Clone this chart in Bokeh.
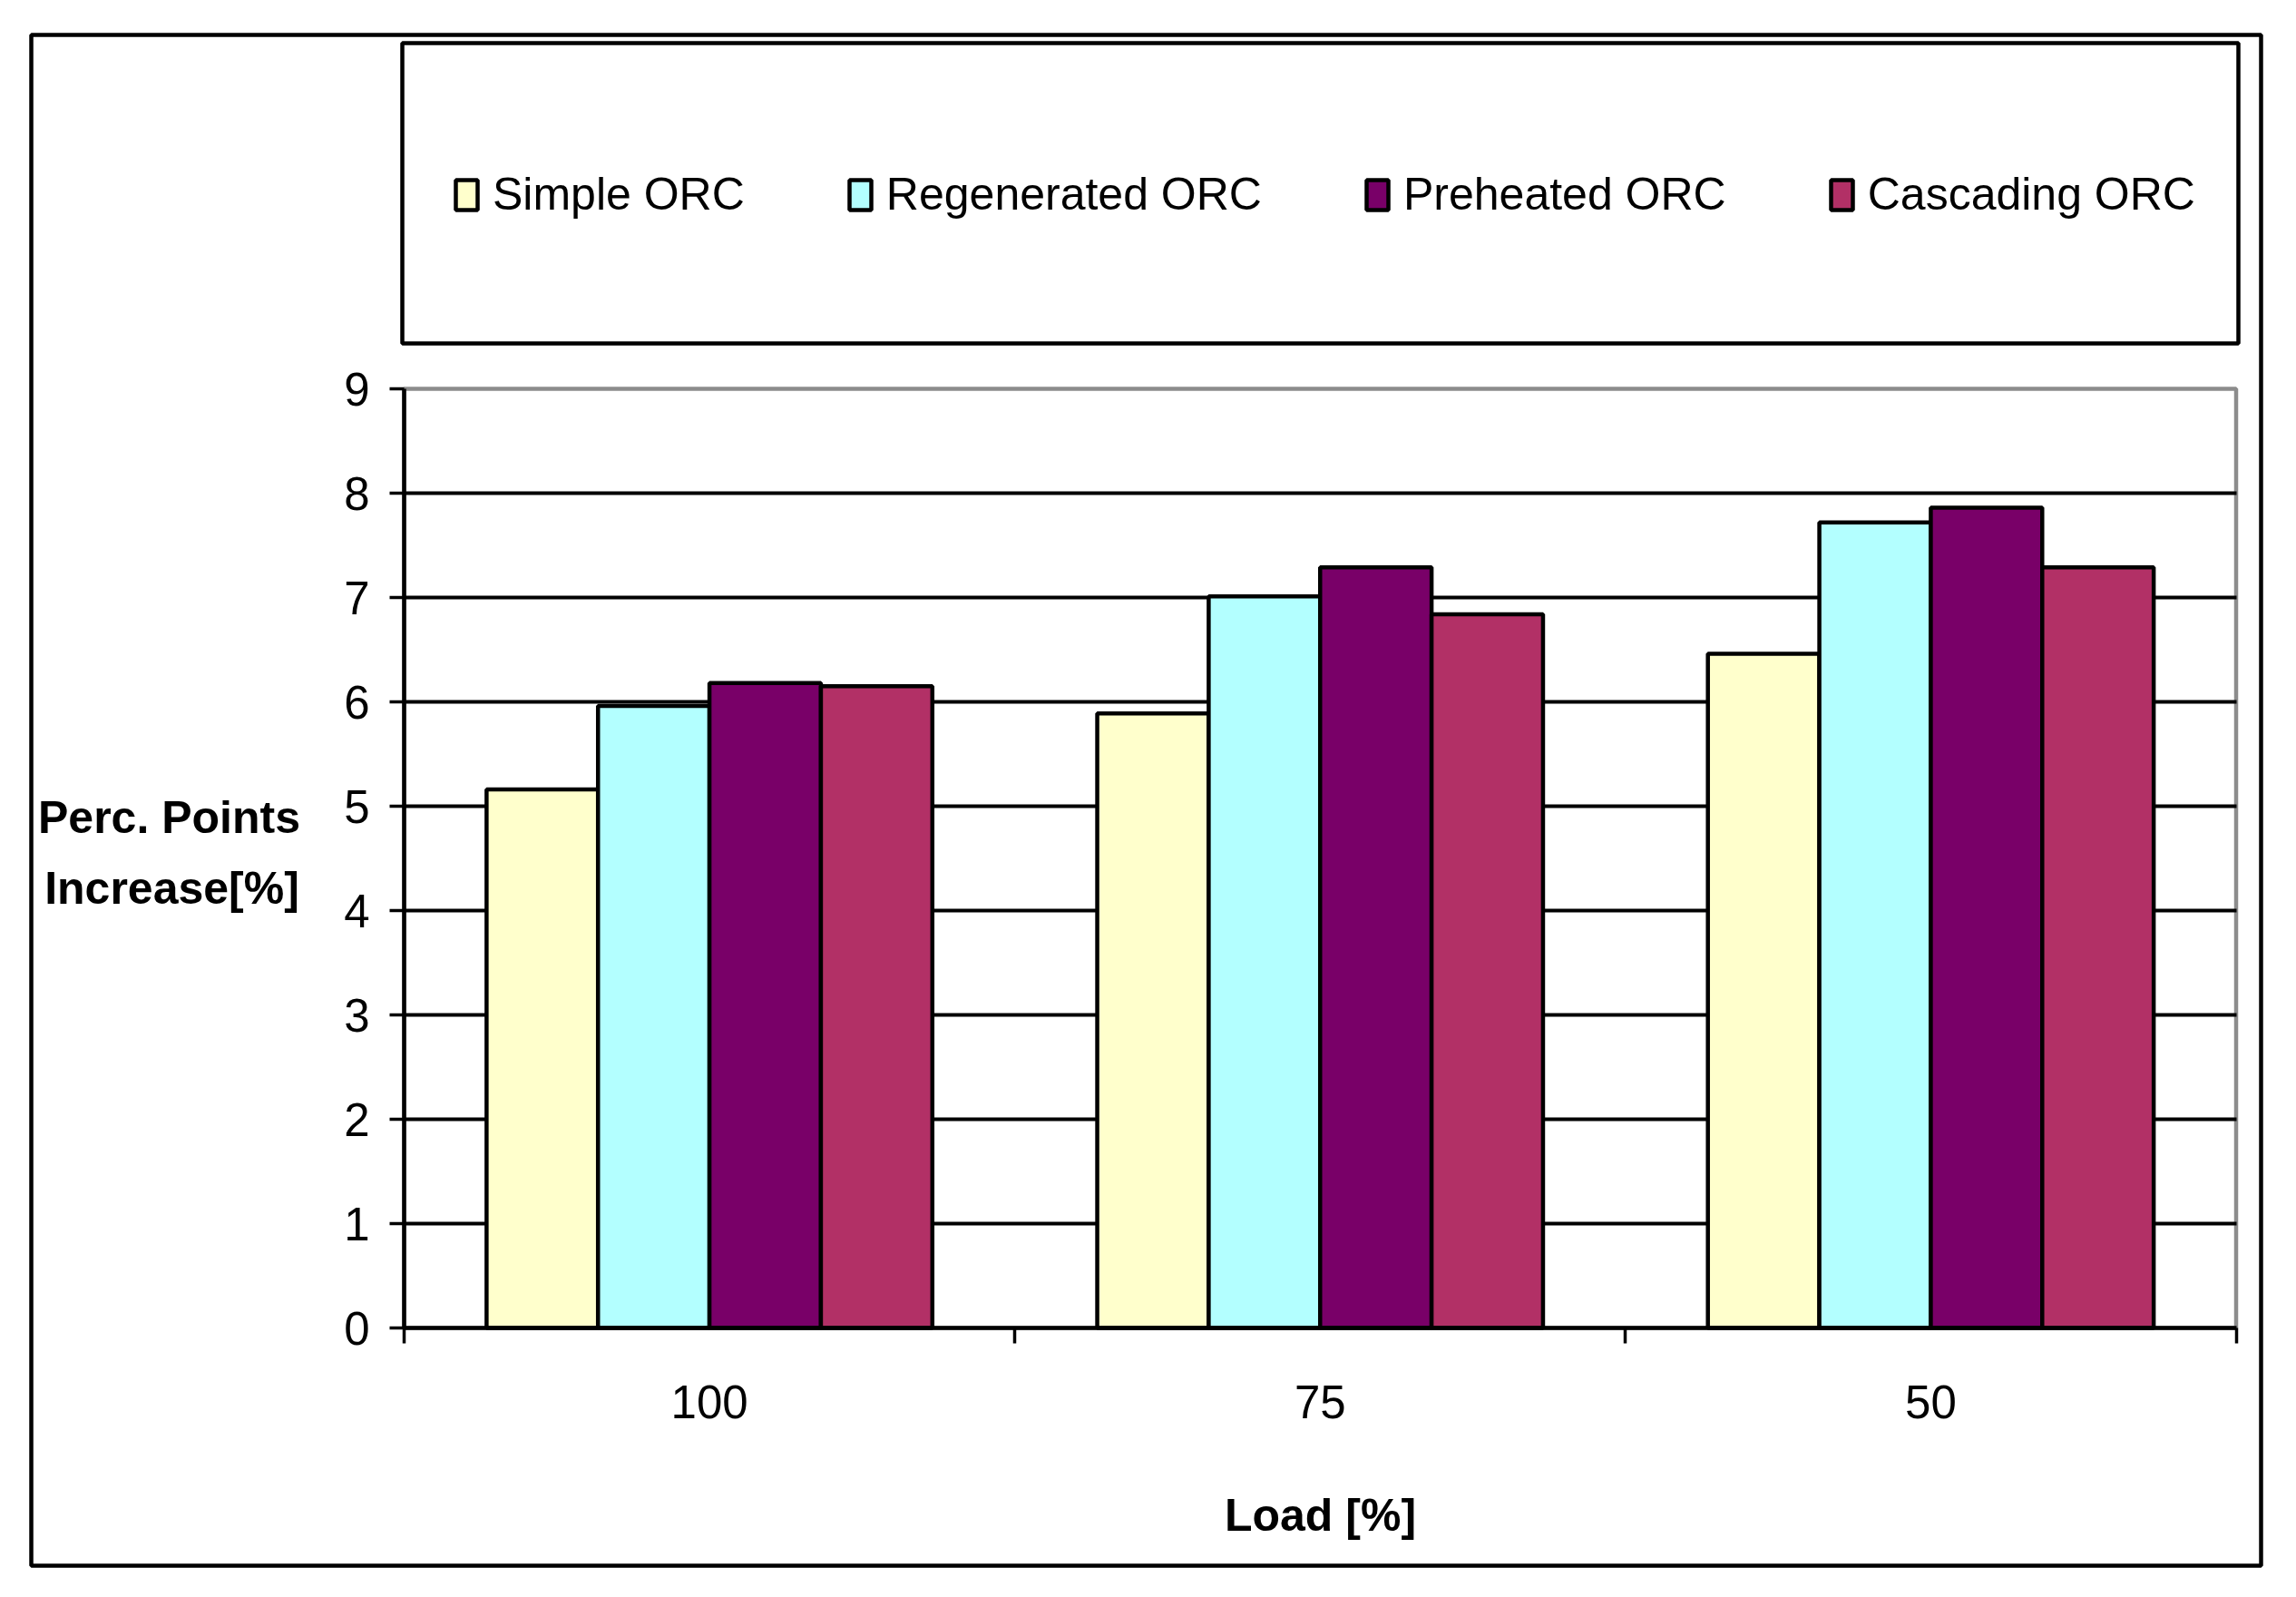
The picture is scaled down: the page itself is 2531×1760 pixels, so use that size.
from bokeh.plotting import figure
from bokeh.models import Range1d, LinearAxis, FixedTicker, BoxAnnotation, Label, Grid
from bokeh.embed import file_html
from bokeh.resources import INLINE

# ---- data ----
loads = ["100", "75", "50"]
series_names = ["Simple ORC", "Regenerated ORC", "Preheated ORC", "Cascading ORC"]
simple_orc = [5.16, 5.89, 6.46]
regenerated_orc = [5.96, 7.01, 7.72]
preheated_orc = [6.18, 7.29, 7.86]
cascading_orc = [6.15, 6.84, 7.29]
y_ticks = [0, 1, 2, 3, 4, 5, 6, 7, 8, 9]
colors = ["#FFFFCC", "#B3FFFF", "#790068", "#B23066"]

series_values = [simple_orc, regenerated_orc, preheated_orc, cascading_orc]

FONT = "Liberation Sans"
W, H = 2515, 1744
# canvas pixel layout: the frame is the outer chart border, plot area inside it
FR_L, FR_R, FR_T, FR_B = 34, 2492, 38, 1725
PA_L, PA_R, PA_T, PA_B = 445, 2464.5, 428, 1463

n_cat = len(loads)
y_max = y_ticks[-1]
ux = (PA_R - PA_L) / n_cat
uy = (PA_B - PA_T) / y_max
x_start = -(PA_L - FR_L) / ux
x_end = n_cat + (FR_R - PA_R) / ux
y_start = -(FR_B - PA_B) / uy
y_end = y_max + (PA_T - FR_T) / uy

cat_pos = [i + 0.5 for i in range(n_cat)]
cat_bounds = [i for i in range(n_cat + 1)]
bar_w = 0.1825

p = figure(width=W, height=H, x_range=Range1d(x_start, x_end), y_range=Range1d(y_start, y_end),
           output_backend="svg", toolbar_location=None,
           x_axis_location=None, y_axis_location=None,
           min_border_left=FR_L, min_border_right=W - FR_R,
           min_border_top=FR_T, min_border_bottom=H - FR_B)
p.background_fill_color = "white"
p.border_fill_color = "white"
p.outline_line_color = "black"
p.outline_line_width = 4.5
p.outline_line_alpha = 1.0
p.grid.visible = False

# plot area border (grey top / right)
p.add_layout(BoxAnnotation(left=0, right=n_cat, bottom=0, top=y_max, fill_color=None,
                           line_color="#8C8C8C", line_alpha=1.0, line_width=4.5, level="underlay"))

# horizontal gridlines limited to the plot area
try:
    grid = Grid(dimension=1, ticker=FixedTicker(ticks=y_ticks[1:-1]), cross_bounds=(0, n_cat),
                grid_line_color="black", grid_line_width=3.8, grid_line_alpha=1.0)
    p.add_layout(grid, "center")
except Exception:
    p.segment(x0=[0] * (len(y_ticks) - 2), x1=[n_cat] * (len(y_ticks) - 2),
              y0=y_ticks[1:-1], y1=y_ticks[1:-1], line_color="black", line_width=3.8)

for k, (name, vals, col) in enumerate(zip(series_names, series_values, colors)):
    xs = [c + (k - 1.5) * bar_w for c in cat_pos]
    p.vbar(x=xs, top=vals, bottom=0, width=bar_w, fill_color=col, line_color="black",
           line_width=4.5, legend_label=name)

# x axis
xaxis = LinearAxis(ticker=FixedTicker(ticks=cat_pos, minor_ticks=cat_bounds),
                   fixed_location=0, bounds=(0, n_cat))
xaxis.major_label_overrides = {c: lab for c, lab in zip(cat_pos, loads)}
xaxis.major_tick_line_color = None
xaxis.minor_tick_out = 17
xaxis.minor_tick_in = 0
xaxis.minor_tick_line_color = "black"
xaxis.minor_tick_line_width = 3.5
xaxis.axis_line_color = "black"
xaxis.axis_line_width = 4.5
xaxis.major_label_text_font = FONT
xaxis.major_label_text_font_size = "51px"
xaxis.major_label_text_color = "black"
xaxis.major_label_standoff = 46
xaxis.axis_label = "Load [%]"
xaxis.axis_label_text_font = FONT
xaxis.axis_label_text_font_style = "bold"
xaxis.axis_label_text_font_size = "50px"
xaxis.axis_label_text_color = "black"
xaxis.axis_label_standoff = 76
p.add_layout(xaxis, "below")

# y axis
yaxis = LinearAxis(ticker=FixedTicker(ticks=y_ticks, minor_ticks=[]),
                   fixed_location=0, bounds=(0, y_max))
yaxis.major_tick_out = 16
yaxis.major_tick_in = 0
yaxis.major_tick_line_color = "black"
yaxis.major_tick_line_width = 3.5
yaxis.axis_line_color = "black"
yaxis.axis_line_width = 4.5
yaxis.major_label_text_font = FONT
yaxis.major_label_text_font_size = "51px"
yaxis.major_label_text_color = "black"
yaxis.major_label_standoff = 22
p.add_layout(yaxis, "left")

# y title (horizontal, two lines)
for txt, cx, cy in [("Perc. Points", 186, 900), ("Increase[%]", 189, 978)]:
    p.add_layout(Label(x=cx - FR_L, y=FR_B - cy, x_units="screen", y_units="screen", text=txt,
                       text_font=FONT, text_font_size="50px", text_font_style="bold",
                       text_color="black", text_align="center", text_baseline="middle"))

# legend
lg = p.legend[0]
lg.orientation = "horizontal"
lg.location = (499 - FR_L, FR_B - 243)
lg.margin = 0
lg.padding = 0
lg.spacing = 112
lg.glyph_width = 30
lg.glyph_height = 41
lg.label_standoff = 14
lg.label_text_font = FONT
lg.label_text_font_size = "50px"
lg.label_text_color = "black"
lg.border_line_color = None
lg.background_fill_alpha = 0

# legend box
p.add_layout(BoxAnnotation(left=443, right=2467, top=47, bottom=378,
                           left_units="canvas", right_units="canvas",
                           top_units="canvas", bottom_units="canvas",
                           fill_color=None, line_color="black", line_alpha=1.0, line_width=4.5))

open("out.html", "w").write(file_html(p, INLINE))
